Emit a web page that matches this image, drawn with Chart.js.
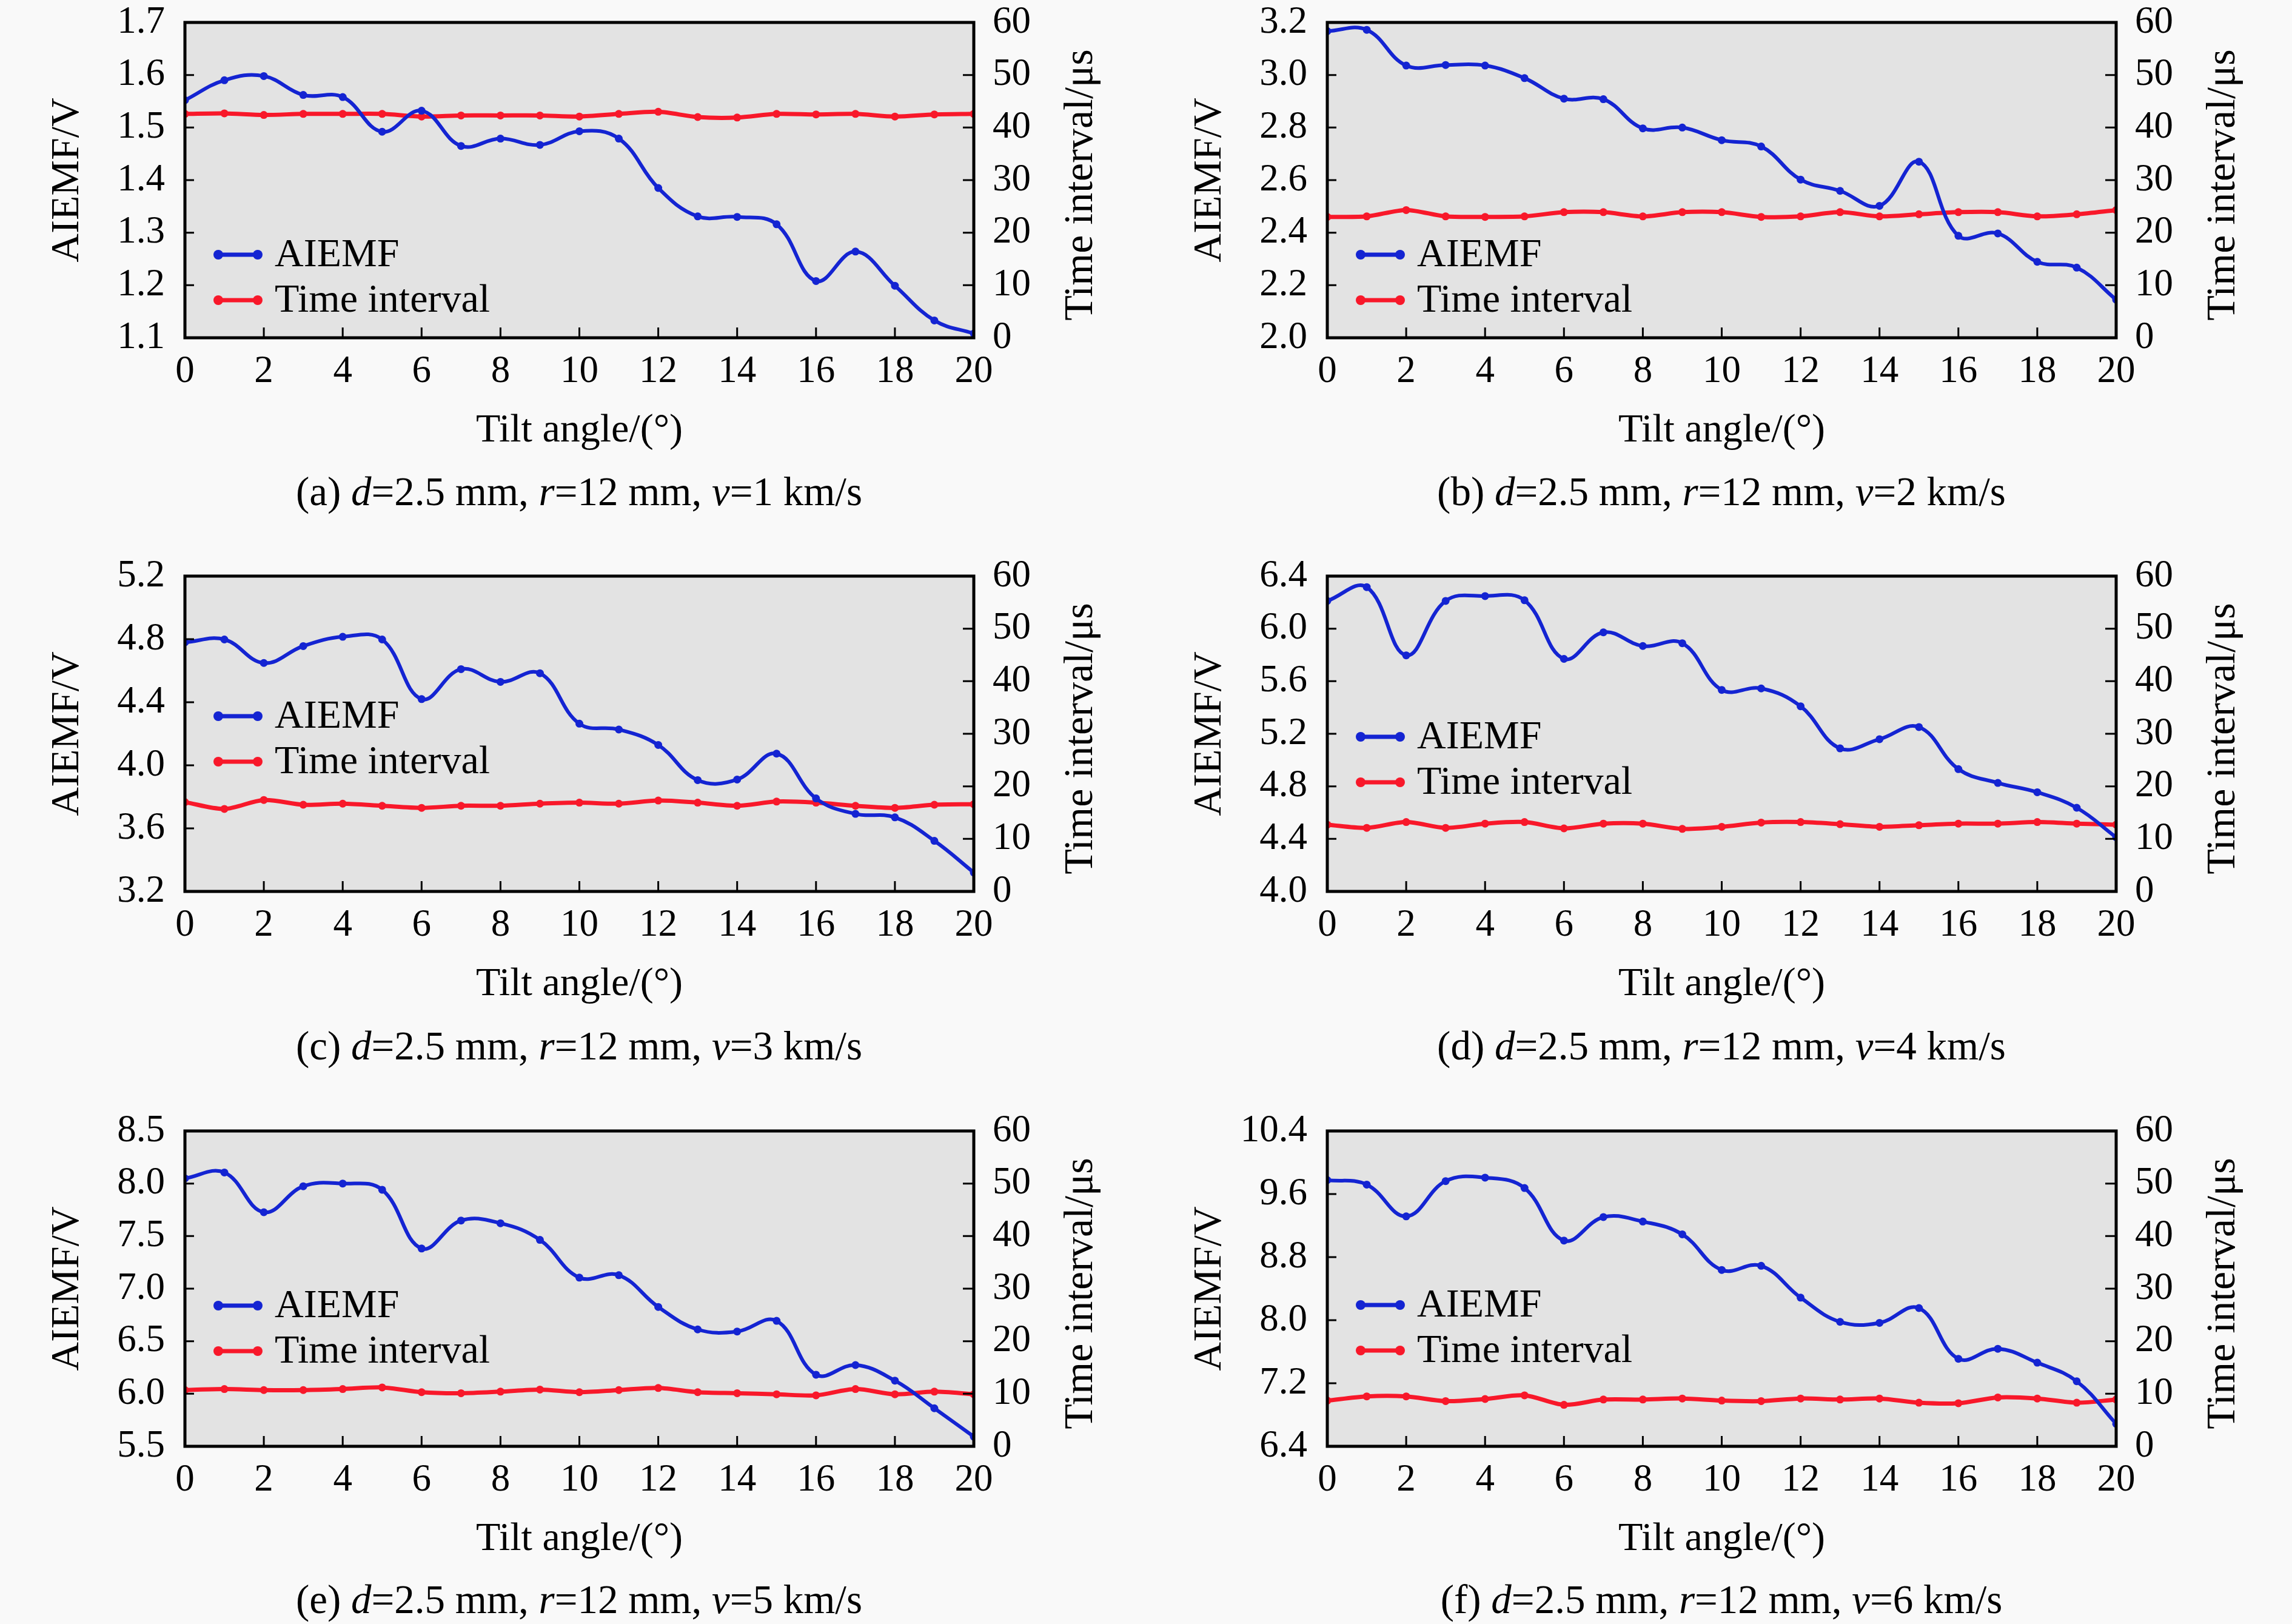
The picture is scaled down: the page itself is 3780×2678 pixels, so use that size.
<!DOCTYPE html>
<html>
<head>
<meta charset="utf-8">
<script src="https://cdn.jsdelivr.net/npm/chart.js@4.4.0/dist/chart.umd.min.js"></script>
<style>
  body { margin: 0; width: 3780px; height: 2678px; background: #f9f9f9; position: relative; overflow: hidden; font-family: 'Liberation Serif', 'Times New Roman', serif; }
  canvas { position: absolute; }
  .cap { position: absolute; font-size: 67px; color: #000; transform: translate(-50%, -50%); white-space: nowrap; line-height: 1; }
</style>
</head>
<body>
<canvas id="ca" width="1801" height="800" style="left:55px;top:-43px"></canvas>
<canvas id="cb" width="1801" height="800" style="left:1939px;top:-43px"></canvas>
<canvas id="cc" width="1801" height="800" style="left:55px;top:870px"></canvas>
<canvas id="cd" width="1801" height="800" style="left:1939px;top:870px"></canvas>
<canvas id="ce" width="1801" height="800" style="left:55px;top:1785px"></canvas>
<canvas id="cf" width="1801" height="800" style="left:1939px;top:1785px"></canvas>

<div class="cap" style="left:955px;top:810px">(a) <i>d</i>=2.5 mm, <i>r</i>=12 mm, <i>v</i>=1 km/s</div>
<div class="cap" style="left:2839px;top:810px">(b) <i>d</i>=2.5 mm, <i>r</i>=12 mm, <i>v</i>=2 km/s</div>
<div class="cap" style="left:955px;top:1724px">(c) <i>d</i>=2.5 mm, <i>r</i>=12 mm, <i>v</i>=3 km/s</div>
<div class="cap" style="left:2839px;top:1724px">(d) <i>d</i>=2.5 mm, <i>r</i>=12 mm, <i>v</i>=4 km/s</div>
<div class="cap" style="left:955px;top:2637px">(e) <i>d</i>=2.5 mm, <i>r</i>=12 mm, <i>v</i>=5 km/s</div>
<div class="cap" style="left:2839px;top:2637px">(f) <i>d</i>=2.5 mm, <i>r</i>=12 mm, <i>v</i>=6 km/s</div>

<script>
const angles = [0,1,2,3,4,5,6,7,8,9,10,11,12,13,14,15,16,17,18,19,20];

const aiemfA = [1.552,1.590,1.598,1.562,1.558,1.492,1.532,1.465,1.479,1.467,1.493,1.479,1.385,1.331,1.330,1.316,1.208,1.264,1.199,1.133,1.108];
const timeA  = [42.6,42.7,42.4,42.6,42.6,42.6,42.1,42.3,42.3,42.3,42.1,42.6,43.0,42.0,41.9,42.6,42.5,42.6,42.1,42.5,42.6];

const aiemfB = [3.167,3.172,3.036,3.038,3.036,2.988,2.910,2.908,2.797,2.800,2.752,2.728,2.602,2.559,2.502,2.670,2.388,2.397,2.289,2.267,2.145];
const timeB  = [23.0,23.1,24.3,23.1,23.0,23.1,23.9,23.9,23.1,23.9,23.9,23.0,23.1,23.9,23.1,23.5,23.9,23.9,23.1,23.5,24.3];

const aiemfC = [4.780,4.798,4.649,4.756,4.815,4.798,4.420,4.610,4.529,4.584,4.264,4.227,4.129,3.906,3.910,4.074,3.790,3.692,3.670,3.521,3.320];
const timeC  = [17.0,15.7,17.4,16.5,16.7,16.3,15.9,16.3,16.3,16.7,16.9,16.7,17.3,16.9,16.3,17.1,16.9,16.3,15.9,16.5,16.6];

const aiemfD = [6.211,6.316,5.797,6.211,6.248,6.216,5.770,5.972,5.868,5.889,5.534,5.545,5.409,5.089,5.159,5.251,4.931,4.826,4.755,4.637,4.412];
const timeD  = [12.7,12.1,13.2,12.1,12.9,13.2,12.0,12.9,12.9,11.9,12.3,13.1,13.2,12.8,12.3,12.6,12.9,12.9,13.2,12.9,12.7];

const aiemfE = [8.049,8.105,7.727,7.974,8.000,7.941,7.382,7.648,7.622,7.464,7.105,7.128,6.826,6.612,6.592,6.694,6.181,6.273,6.125,5.862,5.592];
const timeE  = [10.7,10.9,10.7,10.7,10.9,11.2,10.3,10.1,10.4,10.8,10.3,10.7,11.1,10.3,10.1,9.9,9.7,10.9,9.9,10.4,9.9];

const aiemfF = [9.777,9.720,9.317,9.764,9.808,9.676,9.010,9.308,9.251,9.089,8.637,8.690,8.286,7.979,7.966,8.154,7.510,7.637,7.461,7.225,6.685];
const timeF  = [8.7,9.5,9.5,8.6,9.0,9.7,7.9,8.9,8.9,9.1,8.7,8.6,9.1,8.9,9.1,8.3,8.2,9.3,9.1,8.3,8.9];

// left axis: min, max, step
const voltAxisA = [1.1, 1.7, 0.1];
const voltAxisB = [2.0, 3.2, 0.2];
const voltAxisC = [3.2, 5.2, 0.4];
const voltAxisD = [4.0, 6.4, 0.4];
const voltAxisE = [5.5, 8.5, 0.5];
const voltAxisF = [6.4, 10.4, 0.8];
const timeAxis  = [0, 60, 10];
const angleAxis = [0, 20, 2];

const blue = '#1424d2', red = '#f8182a';
const serif = "'Liberation Serif', 'Times New Roman', serif";
Chart.defaults.font.family = serif;
Chart.defaults.color = '#000';

const frame = {
  id: 'frame',
  beforeDraw(chart) {
    const a = chart.chartArea, c = chart.ctx;
    c.save();
    c.fillStyle = '#e3e3e3';
    c.fillRect(a.left, a.top, a.right - a.left, a.bottom - a.top);
    c.restore();
  },
  afterDraw(chart, args, opts) {
    const a = chart.chartArea, c = chart.ctx;
    const sx = chart.scales.x, sy = chart.scales.y, sr = chart.scales.y1;
    c.save();
    c.strokeStyle = '#000';
    c.lineWidth = 3;
    c.beginPath();
    sx.ticks.forEach((t, i) => { const p = sx.getPixelForTick(i); c.moveTo(p, a.bottom); c.lineTo(p, a.bottom - 17); });
    sy.ticks.forEach((t, i) => { const p = sy.getPixelForTick(i); c.moveTo(a.left, p); c.lineTo(a.left + 15, p); });
    sr.ticks.forEach((t, i) => { const p = sr.getPixelForTick(i); c.moveTo(a.right, p); c.lineTo(a.right - 18, p); });
    c.stroke();
    c.lineWidth = 5;
    c.strokeRect(a.left, a.top, a.right - a.left, a.bottom - a.top);

    // right axis title, reading bottom to top
    c.save();
    c.translate(a.right + 177, (a.top + a.bottom) / 2 + 8);
    c.rotate(-Math.PI / 2);
    c.font = '68px ' + serif;
    c.fillStyle = '#000';
    c.textAlign = 'center';
    c.textBaseline = 'middle';
    c.fillText('Time interval/\u03bcs', 0, 0);
    c.restore();

    // legend: line with a dot at each end
    chart.data.datasets.forEach((ds, i) => {
      const y = a.top + opts.legendY + i * 75;
      const x0 = a.left + 55, x1 = x0 + 65;
      c.strokeStyle = ds.borderColor;
      c.fillStyle = ds.borderColor;
      c.lineWidth = 7;
      c.beginPath(); c.moveTo(x0, y); c.lineTo(x1, y); c.stroke();
      [x0, x1].forEach(x => { c.beginPath(); c.arc(x, y, 8, 0, Math.PI * 2); c.fill(); });
      c.fillStyle = '#000';
      c.font = '66px ' + serif;
      c.textAlign = 'left';
      c.textBaseline = 'middle';
      c.fillText(ds.label, a.left + 148, y + 2);
    });
    c.restore();
  }
};

function makeChart(id, volt, time, voltAxis, legendY) {
  const pts = arr => arr.map((v, i) => ({ x: angles[i], y: v }));
  new Chart(document.getElementById(id), {
    type: 'line',
    data: {
      datasets: [
        { label: 'AIEMF', data: pts(volt), yAxisID: 'y', borderColor: blue, backgroundColor: blue,
          borderWidth: 6, pointRadius: 6.5, pointBorderWidth: 0, tension: 0.4 },
        { label: 'Time interval', data: pts(time), yAxisID: 'y1', borderColor: red, backgroundColor: red,
          borderWidth: 7, pointRadius: 6.5, pointBorderWidth: 0, tension: 0.3 }
      ]
    },
    options: {
      responsive: false,
      animation: false,
      devicePixelRatio: 1,
      layout: { padding: { top: 80 } },
      plugins: { legend: { display: false }, tooltip: { enabled: false }, frame: { legendY: legendY } },
      scales: {
        x: {
          type: 'linear', min: angleAxis[0], max: angleAxis[1],
          ticks: { stepSize: angleAxis[2], padding: 11, font: { size: 63 } },
          grid: { display: false }, border: { display: false },
          title: { display: true, text: 'Tilt angle/(\u00b0)', font: { size: 66 }, padding: { top: 0, bottom: 7 } },
          afterFit: s => { s.height = 200; }
        },
        y: {
          position: 'left', min: voltAxis[0], max: voltAxis[1],
          ticks: { stepSize: voltAxis[2], padding: 25, font: { size: 63 }, callback: v => v.toFixed(1) },
          grid: { display: false }, border: { display: false },
          title: { display: true, text: 'AIEMF/V', font: { size: 66 }, padding: { top: 17, bottom: 0 } },
          afterFit: s => { s.width = 250; }
        },
        y1: {
          position: 'right', min: timeAxis[0], max: timeAxis[1],
          ticks: { stepSize: timeAxis[2], padding: 23, font: { size: 63 } },
          grid: { display: false }, border: { display: false },
          afterFit: s => { s.width = 250; }
        }
      }
    },
    plugins: [frame]
  });
}

makeChart('ca', aiemfA, timeA, voltAxisA, 383);
makeChart('cb', aiemfB, timeB, voltAxisB, 383);
makeChart('cc', aiemfC, timeC, voltAxisC, 231);
makeChart('cd', aiemfD, timeD, voltAxisD, 265);
makeChart('ce', aiemfE, timeE, voltAxisE, 288);
makeChart('cf', aiemfF, timeF, voltAxisF, 287);
</script>
</body>
</html>
